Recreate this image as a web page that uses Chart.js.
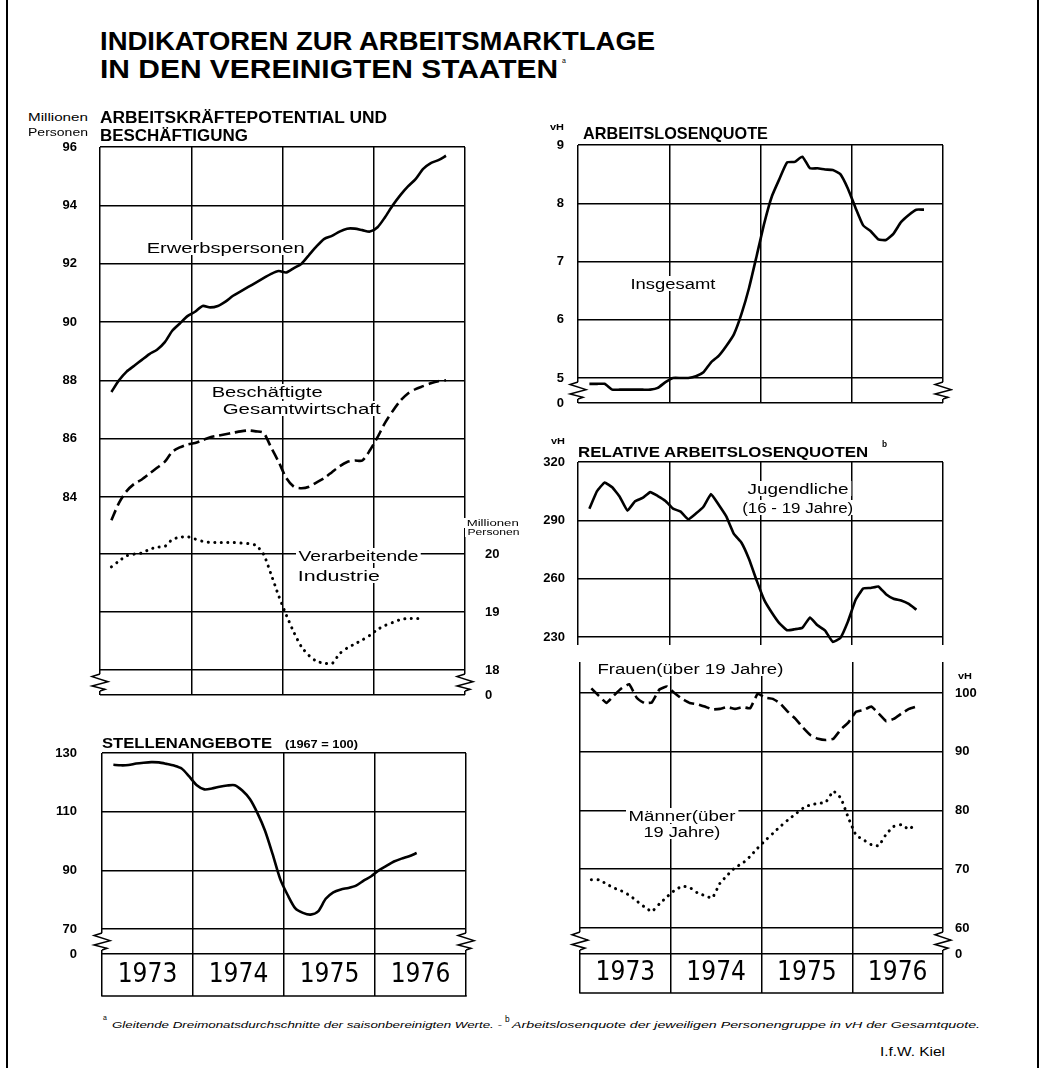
<!DOCTYPE html>
<html lang="de">
<head>
<meta charset="utf-8">
<title>Indikatoren zur Arbeitsmarktlage in den Vereinigten Staaten</title>
<script src="https://cdn.jsdelivr.net/npm/chart.js@4.4.1/dist/chart.umd.min.js"></script>
<style>
  html, body { margin: 0; padding: 0; background: #fff; }
  #page { position: relative; width: 1045px; height: 1068px; overflow: hidden; background: #fff;
          font-family: "Liberation Sans", "DejaVu Sans", sans-serif; color: #000; }
  #page canvas { position: absolute; }
  .frame { position: absolute; top: 0; bottom: 0; width: 2px; background: #000; }
  .lbl { position: absolute; white-space: nowrap; line-height: 1; transform-origin: 0 0; z-index: 2; }
  .b { font-weight: bold; }
  .bg { background: #fff; padding: 0 2px; }
  .it { font-style: italic; }
</style>
</head>
<body>
<div id="page">
  <div class="frame" style="left:6px"></div>
  <div class="frame" style="left:1037px"></div>
</div>
<script>
// ---- data: monthly values (3-month moving averages), first value = Feb 1973 ----
const years = ['1973', '1974', '1975', '1976'];
const firstMonth = 1; // months counted from Jan 1973 = 0

// Arbeitskraeftepotential und Beschaeftigung (Mio. Personen)
const erwerbspersonen = [87.6, 88.0, 88.3, 88.5, 88.7, 88.9, 89.05, 89.3, 89.7, 89.95,
  90.2, 90.35, 90.55, 90.5, 90.55, 90.7, 90.9, 91.05, 91.2, 91.35,
  91.5, 91.65, 91.75, 91.7, 91.85, 92.0, 92.3, 92.6, 92.85, 92.95,
  93.1, 93.2, 93.2, 93.15, 93.1, 93.25, 93.6, 94.0, 94.35, 94.65,
  94.9, 95.25, 95.45, 95.55, 95.7];
const beschaeftigte = [83.2, 83.8, 84.2, 84.45, 84.6, 84.8, 85.0, 85.2, 85.55, 85.7,
  85.8, 85.85, 85.95, 86.05, 86.1, 86.15, 86.2, 86.25, 86.28, 86.25,
  86.2, 85.7, 85.2, 84.65, 84.35, 84.3, 84.35, 84.5, 84.65, 84.85,
  85.05, 85.2, 85.25, 85.25, 85.6, 86.05, 86.55, 86.95, 87.3, 87.55,
  87.7, 87.8, 87.9, 87.97, 88.0];
const industrie = [19.78, 19.88, 19.97, 20.0, 20.02, 20.08, 20.12, 20.13, 20.25, 20.29,
  20.3, 20.26, 20.22, 20.2, 20.2, 20.2, 20.2, 20.19, 20.18, 20.15,
  20.0, 19.65, 19.28, 18.95, 18.65, 18.4, 18.25, 18.15, 18.12, 18.11,
  18.28, 18.38, 18.45, 18.52, 18.6, 18.7, 18.77, 18.82, 18.87, 18.89,
  18.89, 18.89];

// Stellenangebote (1967 = 100)
const stellen = [126.0, 125.8, 125.9, 126.4, 126.7, 126.9, 126.8, 126.3, 125.7, 124.7,
  122.0, 119.0, 117.6, 117.9, 118.5, 118.9, 119.0, 117.2, 114.3, 109.5,
  103.5, 95.5, 87.0, 81.5, 77.0, 75.5, 74.9, 76.0, 80.3, 82.5,
  83.5, 84.0, 84.8, 86.5, 88.0, 90.0, 91.5, 93.0, 94.0, 94.8, 95.9];

// Arbeitslosenquote insgesamt (vH)
const quote = [4.9, 4.9, 4.9, 4.8, 4.8, 4.8, 4.8, 4.8, 4.8, 4.83,
  4.93, 5.0, 5.0, 5.0, 5.03, 5.1, 5.27, 5.38, 5.55, 5.75,
  6.1, 6.55, 7.1, 7.66, 8.12, 8.42, 8.7, 8.71, 8.8, 8.6,
  8.6, 8.58, 8.57, 8.5, 8.25, 7.92, 7.62, 7.52, 7.38, 7.37,
  7.48, 7.68, 7.8, 7.89, 7.89];

// Relative Arbeitslosenquoten (vH der Gesamtquote)
const jugendliche = [296, 305, 309.5, 307, 302, 295, 299.8, 301.5, 304.5, 302.5,
  300, 296, 294.5, 290.5, 293.5, 297, 303.5, 298, 292, 283,
  278.5, 270, 259, 249, 242.5, 237, 233.5, 234, 234.7, 240,
  236, 233.3, 227.5, 229.5, 238, 249, 255, 255.2, 256, 252,
  249.7, 248.8, 247, 244];
const frauen = [100.8, 99.5, 98.3, 99.6, 100.8, 101.5, 99.2, 98.3, 98.4, 100.6,
  101.1, 100.0, 99.0, 98.3, 98.1, 97.7, 97.2, 97.3, 97.6, 97.3,
  97.6, 97.4, 99.9, 99.2, 99.0, 98.2, 96.8, 95.6, 94.1, 92.8,
  92.2, 92.0, 92.2, 93.8, 95.0, 96.8, 97.1, 97.7, 96.5, 95.2,
  95.6, 96.5, 97.3, 97.7];
const maenner = [68.2, 68.2, 67.5, 66.8, 66.3, 65.6, 64.6, 63.6, 62.8, 64.1,
  65.3, 66.4, 67.1, 66.9, 66.0, 65.5, 65.1, 67.6, 69.0, 70.3,
  71.0, 72.2, 73.6, 74.9, 76.1, 77.3, 78.4, 79.4, 80.4, 81.0,
  81.2, 81.4, 83.3, 82.1, 78.7, 75.8, 75.0, 74.2, 74.0, 76.0,
  77.3, 77.6, 76.8, 77.8];

// tick labels of each axis (the lowest tick of a broken axis is shown as 0)
const ticksPersonen = [84, 86, 88, 90, 92, 94, 96];
const ticksIndustrie = [18, 19, 20];
const ticksStellen = [70, 90, 110, 130];
const ticksQuote = [5, 6, 7, 8, 9];
const ticksJugend = [230, 260, 290, 320];
const ticksRelativ = [60, 70, 80, 90, 100];

// ---- helpers ----
const page = document.getElementById('page');
const FONT = "'Liberation Sans', 'DejaVu Sans', sans-serif";
const NARROW = "'Liberation Sans Narrow', 'DejaVu Sans Condensed', 'Liberation Sans', sans-serif";
Chart.defaults.font.family = FONT;
Chart.defaults.color = '#000';

// month series -> points centred in their month
const pts = arr => arr.map((v, i) => ({ x: firstMonth + i + 0.5, y: v }));

const solid = { borderColor: '#000', borderWidth: 2.6, pointRadius: 0, fill: false, tension: 0.25 };
const dashed = { ...solid, borderDash: [11, 5] };
const dotted = { ...solid, borderWidth: 3, borderDash: [0.1, 6.5], borderCapStyle: 'round' };

const GRID = { color: '#000', lineWidth: 1.5, drawTicks: false };

// fixed axis size, and no extra label padding pushed into the layout
const fixSize = (w, h) => s => {
  if (w !== null) s.width = w;
  if (h !== null) s.height = h;
  s.paddingTop = s.paddingBottom = s.paddingLeft = s.paddingRight = 0;
};

function xMonths() {
  return {
    type: 'linear', position: 'bottom', min: 0, max: 48,
    ticks: { display: false, stepSize: 12 },
    grid: GRID, border: { display: false },
    afterFit: fixSize(null, 0)
  };
}

function xYears(rowH) {
  return {
    type: 'category', position: 'bottom', labels: years, offset: true,
    grid: { offset: true, drawOnChartArea: false, drawTicks: true, tickLength: rowH, color: '#000', lineWidth: 1.5 },
    border: { display: false },
    ticks: { color: '#000', maxRotation: 0, autoSkip: false, font: { family: NARROW, size: 26 },
             padding: rowH / 2 - rowH - 15.6 },
    afterFit: fixSize(null, rowH)
  };
}

function yAxis(position, min, max, ticks, axisW, pad, broken) {
  return {
    type: 'linear', position, min, max,
    afterBuildTicks: s => { s.ticks = (broken ? [min] : []).concat(ticks).map(v => ({ value: v })); },
    ticks: { color: '#000', padding: pad, font: { family: FONT, size: 13, weight: 'bold' },
             callback: v => (v < ticks[0] ? '0' : v) },
    grid: GRID, border: { display: false },
    afterFit: fixSize(axisW, null)
  };
}

// zigzag where an axis is broken down to 0
const breakMark = {
  id: 'breakMark',
  afterDraw(chart, args, opts) {
    if (opts.above === undefined) return;
    const { ctx, chartArea: a } = chart;
    const yTop = chart.scales[opts.axis].getPixelForValue(opts.above) + 4;
    const yBot = a.bottom - 4;
    const h = yBot - yTop;
    ctx.save();
    ctx.strokeStyle = '#000';
    ctx.lineWidth = 1.5;
    [a.left, a.right].forEach(x0 => {
      ctx.clearRect(x0 - 2, yTop, 4, h);
      ctx.beginPath();
      ctx.moveTo(x0, yTop);
      ctx.lineTo(x0 - 8, yTop + h * 0.15);
      ctx.lineTo(x0 + 8, yTop + h * 0.45);
      ctx.lineTo(x0 - 8, yTop + h * 0.7);
      ctx.lineTo(x0 + 5, yTop + h * 0.9);
      ctx.lineTo(x0, yBot);
      ctx.stroke();
    });
    ctx.restore();
  }
};

// closing line under the row of year labels
const yearRow = {
  id: 'yearRow',
  afterDraw(chart, args, opts) {
    if (!opts.h) return;
    const { ctx, chartArea: a } = chart;
    ctx.save();
    ctx.strokeStyle = '#000';
    ctx.lineWidth = 1.5;
    ctx.beginPath();
    ctx.moveTo(a.left - 0.75, a.bottom + opts.h);
    ctx.lineTo(a.right + 0.75, a.bottom + opts.h);
    ctx.stroke();
    ctx.restore();
  }
};

function makeChart(pos, datasets, scales, extra) {
  const c = document.createElement('canvas');
  c.width = pos.w;
  c.height = pos.h;
  c.style.left = pos.x + 'px';
  c.style.top = pos.y + 'px';
  page.appendChild(c);
  return new Chart(c, {
    type: 'line',
    data: { datasets },
    options: {
      responsive: false, animation: false, events: [],
      layout: { padding: pos.pad },
      scales,
      plugins: {
        legend: { display: false }, tooltip: { enabled: false },
        breakMark: extra.breakMark || {}, yearRow: extra.yearRow || {}
      }
    },
    plugins: [breakMark, yearRow]
  });
}

// text placed by cap top / cap height, squeezed to the measured width
function label(text, x, capTop, capH, width, cls) {
  const el = document.createElement('div');
  el.className = 'lbl ' + (cls || '');
  el.textContent = text;
  const size = capH / 0.72;
  el.style.fontSize = size.toFixed(1) + 'px';
  el.style.left = x + 'px';
  el.style.top = (capTop - 0.12 * size).toFixed(1) + 'px';
  page.appendChild(el);
  if (width) {
    const bg = el.classList.contains('bg');
    const w = el.getBoundingClientRect().width - (bg ? 4 : 0);
    const k = width / w;
    el.style.transform = 'scaleX(' + k.toFixed(3) + ')';
    if (bg) el.style.left = (x - 2 * k).toFixed(1) + 'px';
  }
  return el;
}

// ---- Arbeitskraeftepotential / Verarbeitende Industrie ----
makeChart({ x: 40, y: 137, w: 490, h: 568, pad: { top: 10, bottom: 10, left: 0, right: 0 } }, [
  { ...solid, data: pts(erwerbspersonen), yAxisID: 'y' },
  { ...dashed, data: pts(beschaeftigte), yAxisID: 'y' },
  { ...dotted, data: pts(industrie), yAxisID: 'y2' }
], {
  x: xMonths(),
  y: yAxis('left', 77.21, 96, ticksPersonen, 60, 23, false),
  y2: yAxis('right', 17.57, 27.02, ticksIndustrie, 65, 20, true)
}, { breakMark: { axis: 'y2', above: 18 } });

// ---- Stellenangebote ----
makeChart({ x: 42, y: 743, w: 444, h: 257, pad: { top: 10, bottom: 4, left: 0, right: 20 } }, [
  { ...solid, data: pts(stellen) }
], {
  x: xMonths(),
  years: xYears(42),
  y: yAxis('left', 61.48, 130, ticksStellen, 60, 25, true)
}, { breakMark: { axis: 'y', above: 70 }, yearRow: { h: 42 } });

// ---- Arbeitslosenquote ----
makeChart({ x: 528, y: 135, w: 425, h: 278, pad: { top: 10, bottom: 10, left: 0, right: 10 } }, [
  { ...solid, data: pts(quote), tension: 0.15 }
], {
  x: xMonths(),
  y: yAxis('left', 4.571, 9, ticksQuote, 50, 14, true)
}, { breakMark: { axis: 'y', above: 5 } });

// ---- Relative Arbeitslosenquoten: Jugendliche ----
makeChart({ x: 528, y: 452, w: 425, h: 203, pad: { top: 10, bottom: 10, left: 0, right: 10 } }, [
  { ...solid, data: pts(jugendliche), tension: 0.1 }
], {
  x: xMonths(),
  y: yAxis('left', 225.9, 320, ticksJugend, 50, 13, false)
}, {});

// ---- Relative Arbeitslosenquoten: Frauen / Maenner ----
makeChart({ x: 560, y: 652, w: 443, h: 345, pad: { top: 10, bottom: 4, left: 20, right: 0 } }, [
  { ...dashed, data: pts(frauen), tension: 0.1 },
  { ...dotted, data: pts(maenner), tension: 0.1 }
], {
  x: xMonths(),
  years: xYears(39),
  y: yAxis('right', 55.57, 105.28, ticksRelativ, 60, 12, true)
}, { breakMark: { axis: 'y', above: 60 }, yearRow: { h: 39 } });

// ---- texts ----
label('INDIKATOREN ZUR ARBEITSMARKTLAGE', 100, 32, 18, 555, 'b');
label('IN DEN VEREINIGTEN STAATEN', 100, 60, 18, 458, 'b');
label('a', 562, 59, 5, 0);

label('Millionen', 28, 113, 8, 60);
label('Personen', 28, 128, 8, 60);
label('ARBEITSKRÄFTEPOTENTIAL UND', 100, 112, 11.5, 287, 'b');
label('BESCHÄFTIGUNG', 100, 130, 11.5, 148, 'b');
label('Erwerbspersonen', 147, 242, 11, 158, 'bg');
label('Beschäftigte', 212, 386, 11, 111, 'bg');
label('Gesamtwirtschaft', 223, 403, 11, 158, 'bg');
label('Verarbeitende', 298, 550, 11, 120, 'bg');
label('Industrie', 298, 570, 11, 82, 'bg');
label('Millionen', 467, 519, 7, 52, 'bg');
label('Personen', 467, 528, 7, 52, 'bg');

label('vH', 550, 123, 7, 14, 'b');
label('ARBEITSLOSENQUOTE', 583, 128, 12, 185, 'b');
label('Insgesamt', 630, 278, 11, 85, 'bg');

label('vH', 551, 437, 7, 14, 'b');
label('RELATIVE ARBEITSLOSENQUOTEN', 578, 446, 11, 290, 'b');
label('b', 882, 441, 6, 0, 'b');
label('Jugendliche', 747, 483, 11, 101, 'bg');
label('(16 - 19 Jahre)', 742, 502, 11, 111, 'bg');

label('STELLENANGEBOTE', 102, 737, 11, 170, 'b');
label('(1967 = 100)', 285, 740, 8, 73, 'b');

label('Frauen(über 19 Jahre)', 597, 663, 11, 186, 'bg');
label('vH', 958, 672, 7, 14, 'b');
label('Männer(über', 628, 810, 11, 107, 'bg');
label('19 Jahre)', 643, 826, 11, 77, 'bg');

label('a', 103, 1016, 5, 0);
label('Gleitende Dreimonatsdurchschnitte der saisonbereinigten Werte.  -', 112, 1021, 7, 390, 'it');
label('b', 505, 1016, 6, 0);
label('Arbeitslosenquote der jeweiligen Personengruppe in vH der Gesamtquote.', 512, 1021, 7, 468, 'it');
label('I.f.W.  Kiel', 880, 1047, 9, 65);
</script>
</body>
</html>
